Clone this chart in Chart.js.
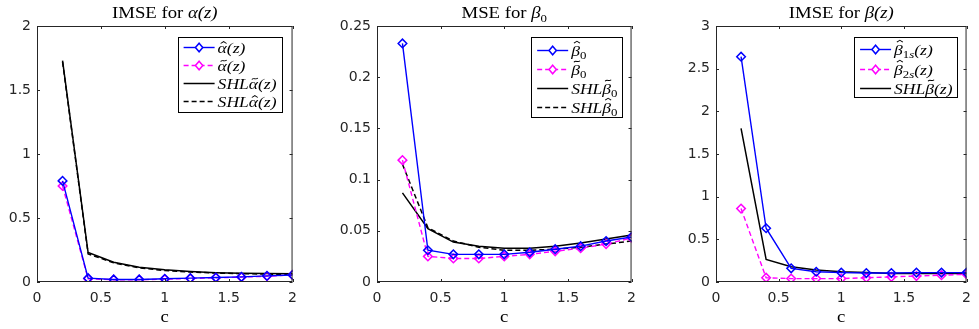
<!DOCTYPE html>
<html>
<head>
<meta charset="utf-8">
<script src="https://cdn.jsdelivr.net/npm/chart.js@4/dist/chart.umd.min.js"></script>
<style>
    html, body { margin: 0; padding: 0; background: #fff; overflow: hidden; }
    body { width: 979px; height: 329px; position: relative; }
    .panel { position: absolute; top: 0; height: 329px; }
</style>
</head>
<body>
<div class="panel" id="p1" style="left:0px;width:305px"><canvas id="chartAlpha"></canvas></div>
<div class="panel" id="p2" style="left:340px;width:304px"><canvas id="chartBeta0"></canvas></div>
<div class="panel" id="p3" style="left:679px;width:300px"><canvas id="chartBeta"></canvas></div>
<script>
// x values (c)
const cValues = [0.2, 0.4, 0.6, 0.8, 1.0, 1.2, 1.4, 1.6, 1.8, 2.0];
const xTicks = [0, 0.5, 1, 1.5, 2];

// IMSE for alpha(z)
const alphaHat = [0.79, 0.030, 0.020, 0.020, 0.025, 0.030, 0.035, 0.040, 0.048, 0.055];
const alphaTilde = [0.75, 0.025, 0.018, 0.018, 0.022, 0.028, 0.033, 0.038, 0.045, 0.055];
const shlAlphaTilde = [1.73, 0.230, 0.155, 0.115, 0.095, 0.082, 0.073, 0.068, 0.066, 0.065];
const shlAlphaHat = [1.72, 0.220, 0.150, 0.110, 0.090, 0.078, 0.070, 0.065, 0.062, 0.060];
const alphaYTicks = [0, 0.5, 1, 1.5, 2];

// MSE for beta0
const beta0Hat = [0.233, 0.031, 0.027, 0.027, 0.027, 0.029, 0.032, 0.035, 0.040, 0.044];
const beta0Tilde = [0.119, 0.025, 0.023, 0.023, 0.025, 0.027, 0.030, 0.033, 0.037, 0.043];
const shlBeta0Tilde = [0.087, 0.052, 0.039, 0.035, 0.033, 0.033, 0.035, 0.038, 0.042, 0.046];
const shlBeta0Hat = [0.115, 0.053, 0.040, 0.034, 0.031, 0.031, 0.032, 0.034, 0.037, 0.040];
const beta0YTicks = [0, 0.05, 0.1, 0.15, 0.2, 0.25];

// IMSE for beta(z)
const beta1s = [2.64, 0.63, 0.16, 0.12, 0.11, 0.105, 0.105, 0.11, 0.11, 0.11];
const beta2s = [0.86, 0.05, 0.04, 0.04, 0.04, 0.05, 0.06, 0.07, 0.08, 0.09];
const shlBetaTilde = [1.80, 0.265, 0.18, 0.14, 0.12, 0.11, 0.10, 0.10, 0.10, 0.10];
const betaYTicks = [0, 0.5, 1, 1.5, 2, 2.5, 3];

const SERIF = "'Liberation Serif', 'DejaVu Serif', serif";
const SANS = "'DejaVu Sans', sans-serif";
const AXIS_COLOR = "#262626";
const X_STRETCH = 1.17;

function toPoints(values) {
    return values.map((v, i) => ({ x: cValues[i], y: v }));
}

// small math markup: _{..} subscript, \hat{x}, \tilde{x}
function mathParts(str, size) {
    const parts = [];
    const it = "italic " + size + "px " + SERIF;
    str.split(/(_\{[^}]*\}|\\hat\{[^}]*\}|\\tilde\{[^}]*\})/).forEach(s => {
        if (!s) return;
        if (s.startsWith("_{")) {
            const sub = Math.round(size * 0.7);
            s.slice(2, -1).split("").forEach(ch => {
                const style = /[0-9]/.test(ch) ? "" : "italic ";
                parts.push({ text: ch, font: style + sub + "px " + SERIF, dy: size * 0.25 });
            });
        } else if (s.startsWith("\\hat{") || s.startsWith("\\tilde{")) {
            const hat = s.startsWith("\\hat{");
            const base = s.slice(hat ? 5 : 7, -1);
            parts.push({ text: base, font: it, dy: 0, accent: hat ? "hat" : "tilde",
                accentY: /[αz]/.test(base) ? -0.6 * size : -0.82 * size, size });
        } else {
            parts.push({ text: s, font: it, dy: 0 });
        }
    });
    return parts;
}

function partsWidth(ctx, parts) {
    let w = 0;
    parts.forEach(p => {
        ctx.font = p.font;
        w += ctx.measureText(p.text).width;
    });
    return w * X_STRETCH;
}

function drawParts(ctx, parts, x, y) {
    ctx.save();
    ctx.translate(x, y);
    ctx.scale(X_STRETCH, 1);
    let cx = 0;
    parts.forEach(p => {
        ctx.font = p.font;
        ctx.fillText(p.text, cx, p.dy);
        const w = ctx.measureText(p.text).width;
        if (p.accent) {
            const mx = cx + w / 2 + p.size * 0.08;
            const y0 = p.accentY;
            const hw = p.size * 0.17;
            ctx.save();
            ctx.strokeStyle = ctx.fillStyle;
            ctx.lineWidth = 0.9;
            ctx.beginPath();
            if (p.accent === "hat") {
                ctx.moveTo(mx - hw, y0);
                ctx.lineTo(mx, y0 - p.size * 0.13);
                ctx.lineTo(mx + hw, y0);
            } else {
                ctx.moveTo(mx - hw, y0);
                ctx.bezierCurveTo(mx - hw * 0.4, y0 - p.size * 0.16, mx + hw * 0.4, y0 + p.size * 0.06, mx + hw, y0 - p.size * 0.1);
            }
            ctx.stroke();
            ctx.restore();
        }
        cx += w;
    });
    ctx.restore();
}

const matlabPlugin = {
    id: "matlab",
    afterDatasetsDraw(chart, args, opts) {
        const ctx = chart.ctx;
        const a = chart.chartArea;
        const xs = chart.scales.x;
        const ys = chart.scales.y;

        // axes box and inward ticks
        ctx.save();
        ctx.strokeStyle = AXIS_COLOR;
        ctx.lineWidth = 1;
        ctx.strokeRect(a.left + 0.5, a.top + 0.5, a.right - a.left - 1, a.bottom - a.top - 1);
        ctx.beginPath();
        xs.ticks.forEach(t => {
            const px = Math.round(xs.getPixelForValue(t.value)) + 0.5;
            ctx.moveTo(px, a.bottom); ctx.lineTo(px, a.bottom - 3);
            ctx.moveTo(px, a.top); ctx.lineTo(px, a.top + 3);
        });
        ys.ticks.forEach(t => {
            const py = Math.round(ys.getPixelForValue(t.value)) + 0.5;
            ctx.moveTo(a.left, py); ctx.lineTo(a.left + 3, py);
            ctx.moveTo(a.right, py); ctx.lineTo(a.right - 3, py);
        });
        ctx.stroke();
        ctx.restore();

        ctx.save();
        ctx.fillStyle = "#000";
        ctx.textBaseline = "alphabetic";

        // title
        const tParts = [{ text: opts.title, font: "16px " + SERIF, dy: 0 }]
            .concat(mathParts(opts.titleMath, 16));
        const tw = partsWidth(ctx, tParts);
        drawParts(ctx, tParts, (a.left + a.right) / 2 - tw / 2, 18);

        // x label
        const cParts = [{ text: "c", font: "16px " + SERIF, dy: 0 }];
        const cw = partsWidth(ctx, cParts);
        drawParts(ctx, cParts, (a.left + a.right) / 2 - cw / 2, 322);

        // legend
        const L = opts.legend;
        const items = chart.data.datasets.map(ds => ({ ds, parts: mathParts(ds.legendText, 15) }));
        const textW = Math.max(...items.map(it => partsWidth(ctx, it.parts)));
        const boxW = 6 + 31 + 3 + textW + 5;
        const boxH = L.padTop + (items.length - 1) * L.rowH + L.padBottom;
        const bx = a.right - L.right - boxW;
        const by = a.top + 11;
        ctx.fillStyle = "#fff";
        ctx.fillRect(bx, by, boxW, boxH);
        ctx.strokeStyle = "#000";
        ctx.lineWidth = 1;
        ctx.strokeRect(Math.round(bx) + 0.5, Math.round(by) + 0.5, Math.round(boxW), Math.round(boxH));

        items.forEach((it, i) => {
            const ry = Math.round(by + L.padTop + i * L.rowH) + 0.5;
            const ds = it.ds;
            ctx.save();
            ctx.strokeStyle = ds.borderColor;
            ctx.lineWidth = ds.borderWidth;
            ctx.setLineDash(ds.borderDash || []);
            ctx.beginPath();
            ctx.moveTo(bx + 6, ry);
            ctx.lineTo(bx + 37, ry);
            ctx.stroke();
            ctx.setLineDash([]);
            if (ds.pointRadius > 0) {
                const mx = bx + 21.5;
                const r = ds.pointRadius;
                ctx.lineWidth = ds.pointBorderWidth;
                ctx.fillStyle = "#fff";
                ctx.beginPath();
                ctx.moveTo(mx, ry - r); ctx.lineTo(mx + r * 0.85, ry);
                ctx.lineTo(mx, ry + r); ctx.lineTo(mx - r * 0.85, ry);
                ctx.closePath();
                ctx.fill();
                ctx.stroke();
            }
            ctx.restore();
            ctx.fillStyle = "#000";
            drawParts(ctx, it.parts, bx + 40, ry + 5);
        });
        ctx.restore();
    }
};

function series(label, legendText, values, color, dashed, marker, width) {
    return {
        label: label,
        legendText: legendText,
        data: toPoints(values),
        borderColor: color,
        backgroundColor: color,
        borderWidth: width,
        borderDash: dashed ? [5, 3] : [],
        pointStyle: "rectRot",
        pointRadius: marker ? 4.3 : 0,
        pointBorderWidth: 1.5,
        pointBackgroundColor: "rgba(255,255,255,0)",
        pointBorderColor: color,
        tension: 0
    };
}

function makeChart(id, datasets, yTicks, title, titleMath, legend, padRight) {
    const fixedTicks = yTicks.slice();
    return new Chart(document.getElementById(id), {
        type: "line",
        data: { datasets },
        plugins: [matlabPlugin],
        options: {
            responsive: true,
            maintainAspectRatio: false,
            animation: false,
            events: [],
            layout: { padding: { top: 26, right: padRight, left: 0, bottom: 0 } },
            plugins: {
                legend: { display: false },
                tooltip: { enabled: false },
                title: { display: false },
                matlab: { title, titleMath, legend }
            },
            scales: {
                x: {
                    type: "linear",
                    min: 0,
                    max: 2,
                    afterBuildTicks: s => { s.ticks = xTicks.map(v => ({ value: v })); },
                    ticks: {
                        padding: 8,
                        color: AXIS_COLOR,
                        maxRotation: 0,
                        font: { family: SANS, size: 14 },
                        callback: v => String(v)
                    },
                    grid: { display: false, drawTicks: false },
                    border: { display: false },
                    afterFit: s => { s.height = 47; }
                },
                y: {
                    min: fixedTicks[0],
                    max: fixedTicks[fixedTicks.length - 1],
                    afterBuildTicks: s => { s.ticks = fixedTicks.map(v => ({ value: v })); },
                    ticks: {
                        padding: 6,
                        color: AXIS_COLOR,
                        font: { family: SANS, size: 14 },
                        callback: v => String(v)
                    },
                    grid: { display: false, drawTicks: false },
                    border: { display: false },
                    afterFit: s => { s.width = 37; }
                }
            }
        }
    });
}

makeChart("chartAlpha", [
    series("alphaHat", "\\hat{α}(z)", alphaHat, "#0000ff", false, true, 1.4),
    series("alphaTilde", "\\tilde{α}(z)", alphaTilde, "#ff00ff", true, true, 1.4),
    series("SHLalphaTilde", "SHL\\tilde{α}(z)", shlAlphaTilde, "#000000", false, false, 1.5),
    series("SHLalphaHat", "SHL\\hat{α}(z)", shlAlphaHat, "#000000", true, false, 1.5)
], alphaYTicks, "IMSE for ", "α(z)", { right: 11, padTop: 9.5, rowH: 18, padBottom: 11 }, 9);

makeChart("chartBeta0", [
    series("beta0Hat", "\\hat{β}_{0}", beta0Hat, "#0000ff", false, true, 1.4),
    series("beta0Tilde", "\\tilde{β}_{0}", beta0Tilde, "#ff00ff", true, true, 1.4),
    series("SHLbeta0Tilde", "SHL\\tilde{β}_{0}", shlBeta0Tilde, "#000000", false, false, 1.5),
    series("SHLbeta0Hat", "SHL\\hat{β}_{0}", shlBeta0Hat, "#000000", true, false, 1.5)
], beta0YTicks, "MSE for ", "β_{0}", { right: 9, padTop: 12.5, rowH: 19, padBottom: 10 }, 9);

makeChart("chartBeta", [
    series("beta1s", "\\hat{β}_{1s}(z)", beta1s, "#0000ff", false, true, 1.4),
    series("beta2s", "\\hat{β}_{2s}(z)", beta2s, "#ff00ff", true, true, 1.4),
    series("SHLbetaTilde", "SHL\\tilde{β}(z)", shlBetaTilde, "#000000", false, false, 1.5)
], betaYTicks, "IMSE for ", "β(z)", { right: 9, padTop: 12, rowH: 19.5, padBottom: 9 }, 5);
</script>
</body>
</html>
